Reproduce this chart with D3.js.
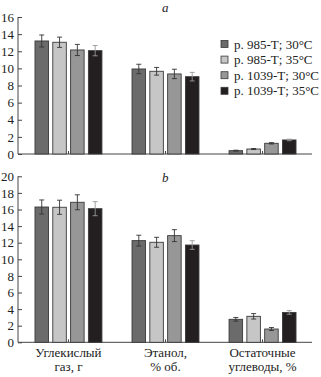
<!DOCTYPE html>
<html><head><meta charset="utf-8">
<script src="https://cdn.jsdelivr.net/npm/d3@7"></script>
<style>body{margin:0;background:#fff}svg{display:block}text{font-family:"Liberation Serif","Times New Roman",serif;fill:#222}</style>
</head><body><svg id="c" width="321" height="377"></svg>
<script>
const groups = ["Углекислый газ, г", "Этанол, % об.", "Остаточные углеводы, %"];
const groupLines = [["Углекислый", "газ, г"], ["Этанол,", "% об."], ["Остаточные", "углеводы, %"]];
const series = ["р. 985-Т; 30°C", "р. 985-Т; 35°C", "р. 1039-Т; 30°C", "р. 1039-Т; 35°C"];
const colors = ["#6b6b6b", "#c6c6c6", "#979797", "#231f20"];
// panel a
const aValues = [[13.2, 9.93, 0.39], [13.05, 9.66, 0.58], [12.15, 9.35, 1.25], [12.07, 9.03, 1.64]];
const aErrors = [[0.7, 0.55, 0.05], [0.6, 0.45, 0.06], [0.65, 0.55, 0.08], [0.6, 0.5, 0.09]];
const aTicks = [0, 2, 4, 6, 8, 10, 12, 14, 16];
// panel b
const bValues = [[16.3, 12.25, 2.77], [16.27, 12.05, 3.13], [16.87, 12.85, 1.6], [16.1, 11.72, 3.6]];
const bErrors = [[0.85, 0.65, 0.22], [0.85, 0.6, 0.33], [0.9, 0.72, 0.18], [0.85, 0.52, 0.22]];
const bTicks = [0, 2, 4, 6, 8, 10, 12, 14, 16, 18, 20];

const svg = d3.select("#c");
const x0 = d3.scaleBand().domain(groups).range([18, 313]).paddingInner(0.31).paddingOuter(0.175);
const x1 = d3.scaleBand().domain(series).range([0, x0.bandwidth()]).paddingInner(0.24).paddingOuter(0);

function panel(values, errors, ticks, yTop, yBot, label, labelY) {
  const y = d3.scaleLinear().domain([0, ticks[ticks.length - 1]]).range([yBot, yTop]);
  const g = svg.append("g");
  const ax = g.append("g").attr("transform", "translate(18,0)")
    .call(d3.axisLeft(y).tickValues(ticks).tickSize(-4).tickPadding(4));
  ax.select(".domain").attr("stroke", "#444").attr("d", `M0,${yBot}V${yTop}`);
  ax.selectAll(".tick line").attr("stroke", "#444");
  ax.selectAll(".tick text").attr("font-size", 13).attr("font-family", "Liberation Serif").attr("fill", "#222");
  // baseline
  g.append("line").attr("x1", 18).attr("x2", 312).attr("y1", yBot).attr("y2", yBot).attr("stroke", "#444");
  // x ticks
  g.selectAll(".xt").data(groups).join("line")
    .attr("x1", d => x0(d) + x0.bandwidth() / 2).attr("x2", d => x0(d) + x0.bandwidth() / 2)
    .attr("y1", yBot).attr("y2", yBot - 3).attr("stroke", "#444");
  series.forEach((s, si) => {
    groups.forEach((gr, gi) => {
      const v = values[si][gi], e = errors[si][gi];
      const bx = x0(gr) + x1(s), bw = x1.bandwidth();
      g.append("rect").attr("x", bx).attr("y", y(v)).attr("width", bw).attr("height", yBot - y(v))
        .attr("fill", colors[si]).attr("stroke", "#3a3a3a").attr("stroke-width", 0.9);
      const cx = bx + bw / 2;
      const ec = si === 3 ? "#999" : "#333";
      g.append("line").attr("x1", cx).attr("x2", cx).attr("y1", y(v - e)).attr("y2", y(v + e)).attr("stroke", ec).attr("stroke-width", 0.9);
      [v - e, v + e].forEach(t => g.append("line").attr("x1", cx - 2.5).attr("x2", cx + 2.5).attr("y1", y(t)).attr("y2", y(t)).attr("stroke", ec).attr("stroke-width", 0.9));
    });
  });
  g.append("text").attr("x", 162).attr("y", labelY).attr("font-size", 13).attr("font-style", "italic").text(label);
  return y;
}

panel(aValues, aErrors, aTicks, 17, 154, "a", 12);
panel(bValues, bErrors, bTicks, 176.3, 342.3, "b", 182);

// legend
const lg = svg.append("g");
series.forEach((s, i) => {
  const yy = 44 + i * 15.6;
  lg.append("rect").attr("x", 221).attr("y", yy - 3.5).attr("width", 7).attr("height", 7)
    .attr("fill", colors[i]).attr("stroke", "#3a3a3a").attr("stroke-width", 0.8);
  lg.append("text").attr("x", 234).attr("y", yy + 4.5).attr("font-size", 13).text(s);
});

// x labels
groups.forEach((gr, gi) => {
  const cx = x0(gr) + x0.bandwidth() / 2;
  groupLines[gi].forEach((ln, li) => {
    svg.append("text").attr("x", cx).attr("y", 357 + li * 14).attr("text-anchor", "middle").attr("font-size", 13).text(ln);
  });
});
</script></body></html>
